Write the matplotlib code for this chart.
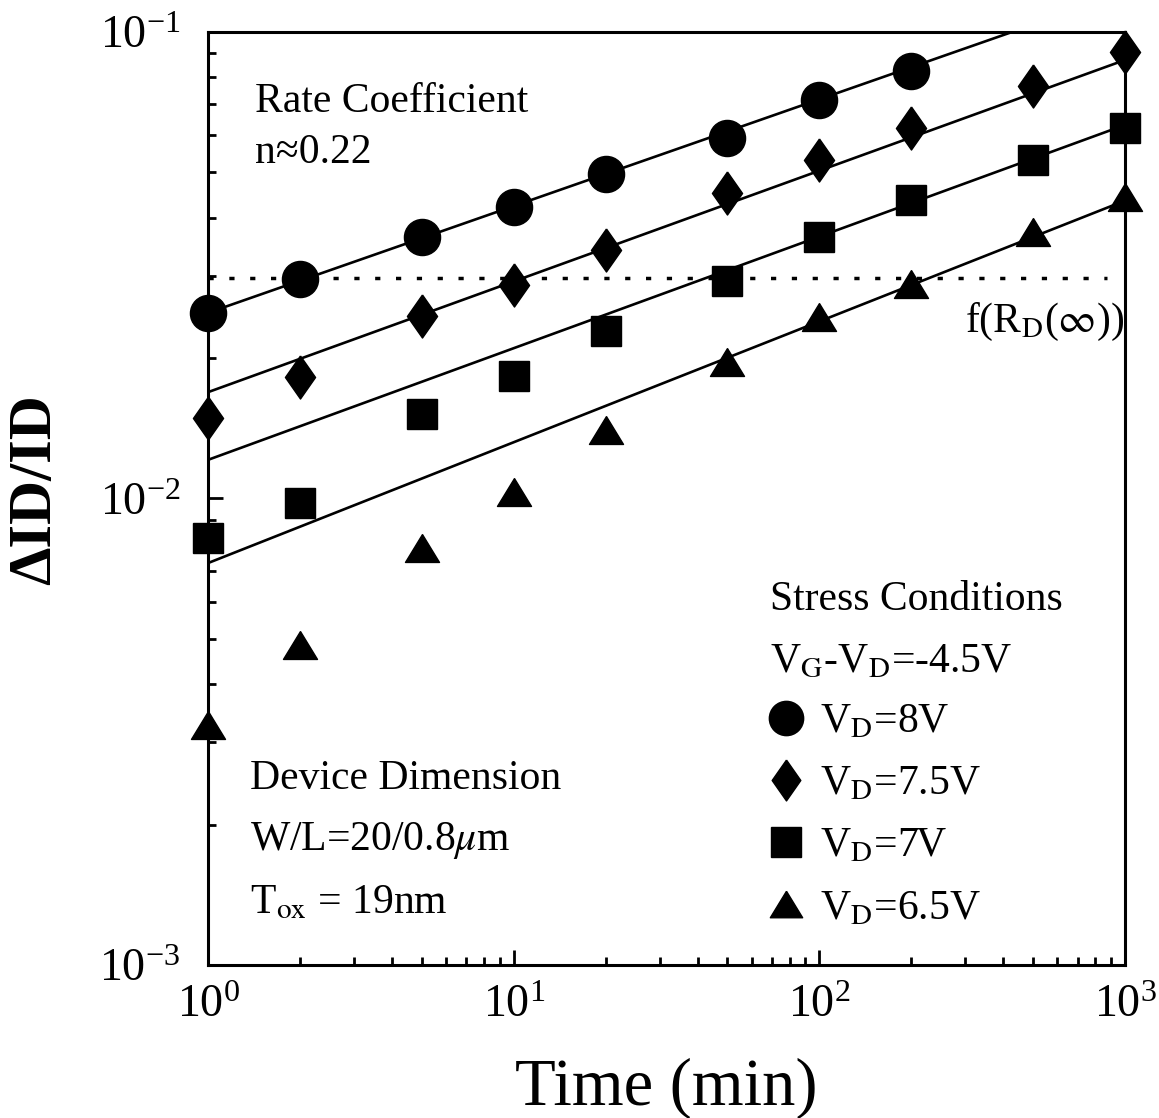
import matplotlib.pyplot as plt

plt.rcParams['font.family'] = ['Liberation Serif', 'DejaVu Serif']
plt.rcParams['mathtext.fontset'] = 'stix'
plt.rcParams['axes.unicode_minus'] = False

# stress time (min)
time = [1, 2, 5, 10, 20, 50, 100, 200, 500, 1000]

# measured dId/Id for each drain voltage
vd_8 = [0.0250, 0.0296, 0.0364, 0.0422, 0.0496, 0.0593, 0.0715, 0.0825]
vd_75 = [0.0149, 0.0182, 0.0246, 0.0287, 0.0341, 0.0452, 0.0532, 0.0622, 0.0766, 0.0906]
vd_7 = [0.00823, 0.00977, 0.0152, 0.0183, 0.0229, 0.0292, 0.0364, 0.0437, 0.0532, 0.0622]
vd_65 = [0.00327, 0.00485, 0.00783, 0.0103, 0.0140, 0.0196, 0.0245, 0.0288, 0.0372, 0.0443]

# power law fits (n ~ 0.22), ends at t=1 and t=1000
fit_t = [1, 1000]
fit_8 = [0.0250, 0.1215]
fit_75 = [0.0169, 0.0871]
fit_7 = [0.0121, 0.0632]
fit_65 = [0.00727, 0.0435]

# f(Rd(inf)) level
level_t = [1, 870]
level = [0.0297, 0.0297]

labels = [r'V$_\mathrm{D}$=8V', r'V$_\mathrm{D}$=7.5V', r'V$_\mathrm{D}$=7V', r'V$_\mathrm{D}$=6.5V']

diamond = [(0, 0.5), (0.35, 0), (0, -0.5), (-0.35, 0), (0, 0.5)]
triangle = [(0, 0.41), (0.5, -0.41), (-0.5, -0.41), (0, 0.41)]

fig = plt.figure(figsize=(11.59, 11.18), dpi=100)
ax = fig.add_axes([0.1795, 0.1369, 0.7912, 0.8345])

for fy in [fit_8, fit_75, fit_7, fit_65]:
    ax.plot(fit_t, fy, color='black', lw=1.9)
ax.plot(level_t, level, color='black', lw=2.5, linestyle=(0, (1.5, 4.5)))

h1, = ax.plot(time[:len(vd_8)], vd_8, 'o', color='black', ms=26, clip_on=False, zorder=5)
h2, = ax.plot(time, vd_75, marker=diamond, ls='none', color='black', ms=31, clip_on=False, zorder=5)
h3, = ax.plot(time, vd_7, 's', color='black', ms=22, clip_on=False, zorder=5)
h4, = ax.plot(time, vd_65, marker=triangle, ls='none', color='black', ms=24.5, clip_on=False, zorder=5)

ax.set_xscale('log')
ax.set_yscale('log')
ax.set_xlim(1, 1000)
ax.set_ylim(1e-3, 1e-1)

for s in ax.spines.values():
    s.set_linewidth(2.2)
ax.tick_params(which='both', direction='in', top=False, right=False, width=2)
ax.tick_params(which='major', length=11, labelsize=33)
ax.tick_params(which='minor', length=6)
ax.tick_params(axis='x', which='major', pad=14)
ax.tick_params(axis='y', which='major', pad=20)

ax.set_xlabel('Time (min)', fontsize=48)
ax.xaxis.set_label_coords(0.5, -0.099)
ax.set_ylabel('ΔID/ID', fontsize=44, fontweight='bold')
ax.yaxis.set_label_coords(-0.158, 0.51)

fs = 30
ax.text(0.0513, 0.914, 'Rate Coefficient', transform=ax.transAxes, fontsize=fs, va='baseline')
ax.text(0.0513, 0.860, 'n≈0.22', transform=ax.transAxes, fontsize=fs, va='baseline')
ax.text(0.0458, 0.1886, 'Device Dimension', transform=ax.transAxes, fontsize=fs, va='baseline')
ax.text(0.0458, 0.1233, r'W/L=20/0.8$\mu$m', transform=ax.transAxes, fontsize=fs, va='baseline')
ax.text(0.0458, 0.0557, r'T$_\mathrm{ox}$ = 19nm', transform=ax.transAxes, fontsize=fs, va='baseline')
ax.text(0.613, 0.3805, 'Stress Conditions', transform=ax.transAxes, fontsize=fs, va='baseline')
ax.text(0.613, 0.314, r'V$_\mathrm{G}$-V$_\mathrm{D}$=-4.5V', transform=ax.transAxes, fontsize=fs, va='baseline')
ax.text(0.8255, 0.678, r'f(R$_\mathrm{D}$($\infty$))', transform=ax.transAxes, fontsize=fs, va='baseline')

ax.legend([h1, h2, h3, h4], labels, loc='upper left', bbox_to_anchor=(0.611, 0.281),
          frameon=False, fontsize=fs, markerscale=0.95, handlelength=0.85,
          handletextpad=0.4, labelspacing=0.57, borderpad=0, borderaxespad=0)

fig.savefig('out.png', dpi=100)
